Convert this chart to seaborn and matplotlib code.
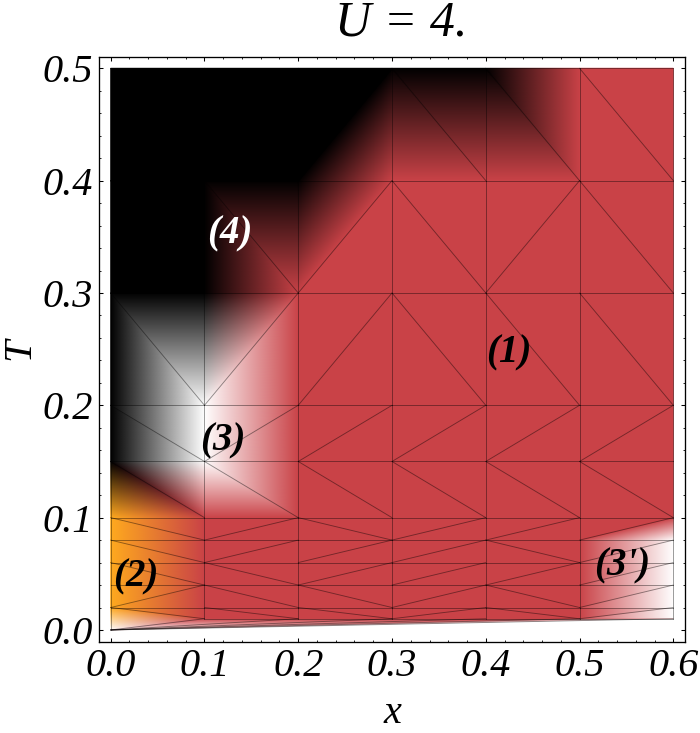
import numpy as np
import pandas as pd
import matplotlib
matplotlib.use("Agg")
import matplotlib.pyplot as plt
import matplotlib.tri as mtri
from matplotlib.collections import TriMesh
from matplotlib.ticker import MultipleLocator
import seaborn as sns

# sampled grid
x_grid = [0.0, 0.1, 0.2, 0.3, 0.4, 0.5, 0.6]
T_grid = [0.01, 0.02, 0.04, 0.06, 0.08, 0.1, 0.15, 0.2, 0.3, 0.4, 0.5]
origin_phase = 3

# phase at each grid point, one row per T (low to high), x=0 has no T=0.01 point
phases = [
    [0, 1, 1, 1, 1, 1, 3],
    [2, 1, 1, 1, 1, 1, 3],
    [2, 1, 1, 1, 1, 1, 3],
    [2, 1, 1, 1, 1, 1, 3],
    [2, 1, 1, 1, 1, 1, 3],
    [2, 1, 1, 1, 1, 1, 1],
    [4, 3, 1, 1, 1, 1, 1],
    [4, 3, 1, 1, 1, 1, 1],
    [4, 4, 1, 1, 1, 1, 1],
    [4, 4, 4, 1, 1, 1, 1],
    [4, 4, 4, 4, 4, 1, 1],
]
phase_colors = {1: "#C94247", 2: "#FFAA1E", 3: "#FFFFFF", 4: "#000000"}

# diagonal of each mesh cell: u = rising, d = falling
diagonals = [
    "dddudu",
    "uddudu",
    "dduuuu",
    "duuudu",
    "duduuu",
    "dddddd",
    "duuuuu",
    "duuddd",
    "ddudud",
    "dduddd",
]

region_labels = ["(1)", "(2)", "(3)", "(3')", "(4)"]
region_x = [0.425, 0.027, 0.120, 0.546, 0.127]
region_T = [0.247, 0.047, 0.168, 0.057, 0.3525]
region_colors = ["black", "black", "black", "black", "white"]


def build_mesh():
    xs, ys, vals, index = [0.0], [0.0], [origin_phase], {}
    for r, T in enumerate(T_grid):
        for c, x in enumerate(x_grid):
            if phases[r][c] == 0:
                continue
            index[(r, c)] = len(xs)
            xs.append(x)
            ys.append(T)
            vals.append(phases[r][c])
    tris = []
    for r, row in enumerate(diagonals):
        for c, d in enumerate(row):
            if (r, c) not in index:
                # corner cell at x=0: runs down to the origin point
                tris.append([0, index[(r + 1, c)], index[(r, c + 1)]])
                tris.append([index[(r + 1, c)], index[(r + 1, c + 1)], index[(r, c + 1)]])
                continue
            a, b = index[(r, c)], index[(r, c + 1)]
            e, f = index[(r + 1, c)], index[(r + 1, c + 1)]
            if d == "u":
                tris += [[a, b, f], [a, f, e]]
            else:
                tris += [[a, b, e], [b, f, e]]
    # thin fan along the bottom, out to the point at the origin
    for c in range(1, len(x_grid) - 1):
        tris.append([0, index[(0, c + 1)], index[(0, c)]])
    return np.array(xs), np.array(ys), np.array(vals), np.array(tris)


def mesh_edges(tris):
    seen = set()
    for tri in tris:
        for i in range(3):
            seen.add(tuple(sorted((tri[i], tri[(i + 1) % 3]))))
    rows = []
    for n, (p, q) in enumerate(sorted(seen)):
        rows.append((n, p))
        rows.append((n, q))
    return pd.DataFrame(rows, columns=["edge", "vertex"])


def main():
    sns.set_theme(style="ticks")
    plt.rcParams["font.family"] = ["Liberation Serif"]
    plt.rcParams["text.color"] = "black"
    plt.rcParams["axes.labelcolor"] = "black"
    plt.rcParams["xtick.labelcolor"] = "black"
    plt.rcParams["ytick.labelcolor"] = "black"
    plt.rcParams["xtick.color"] = "black"
    plt.rcParams["ytick.color"] = "black"

    xs, ys, vals, tris = build_mesh()

    fig = plt.figure(figsize=(7, 7.33), dpi=100)
    ax = fig.add_axes([98.7 / 700, 91 / 733, 586.8 / 700, 585.5 / 733])

    tri = mtri.Triangulation(xs, ys, tris)
    shading = TriMesh(tri)
    shading.set_facecolor([matplotlib.colors.to_rgba(phase_colors[v]) for v in vals])
    ax.add_collection(shading)

    edges = mesh_edges(tris)
    edges["x"] = xs[edges["vertex"]]
    edges["T"] = ys[edges["vertex"]]
    sns.lineplot(data=edges, x="x", y="T", units="edge", estimator=None, sort=False,
                 color="black", alpha=0.42, linewidth=0.65, legend=False, ax=ax)

    ax.set_xlim(-0.0128, 0.613)
    ax.set_ylim(-0.0107, 0.5105)
    ax.xaxis.set_major_locator(MultipleLocator(0.1))
    ax.xaxis.set_minor_locator(MultipleLocator(0.02))
    ax.yaxis.set_major_locator(MultipleLocator(0.1))
    ax.yaxis.set_minor_locator(MultipleLocator(0.02))
    ax.tick_params(which="major", direction="in", length=2.8, width=0.75, top=True, right=True,
                   labelsize=29, pad=4.5)
    ax.tick_params(which="minor", direction="in", length=1.5, width=0.6, top=True, right=True)
    for label in ax.get_xticklabels() + ax.get_yticklabels():
        label.set_fontstyle("italic")
    for spine in ax.spines.values():
        spine.set_linewidth(0.95)
        spine.set_color("black")

    ax.set_xlabel("x", fontsize=29, fontstyle="italic", labelpad=7)
    ax.set_ylabel("T", fontsize=29, fontstyle="italic", labelpad=2.5)
    ax.set_title("U = 4.", fontsize=36, fontstyle="italic", x=0.515, pad=14.8)

    for text, x, T, color in zip(region_labels, region_x, region_T, region_colors):
        ax.text(x, T, text, color=color, fontsize=28, fontstyle="italic", fontweight="bold",
                ha="center", va="center")

    fig.savefig("out.png", dpi=100)


if __name__ == "__main__":
    main()
